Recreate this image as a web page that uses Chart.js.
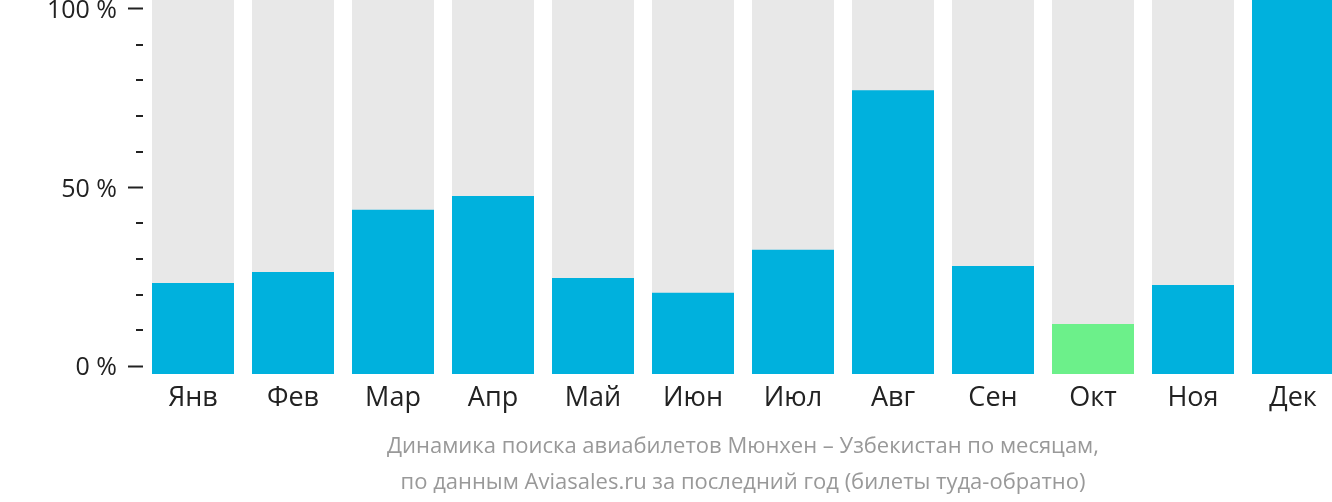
<!DOCTYPE html>
<html>
<head>
<meta charset="utf-8">
<script src="https://cdn.jsdelivr.net/npm/chart.js@4/dist/chart.umd.min.js"></script>
<style>
  html, body { margin: 0; padding: 0; background: #fff; overflow: hidden; }
  #wrap { position: relative; width: 1343px; height: 502px; }
  #caption {
    position: absolute; left: 143px; width: 1200px; top: 426px;
    text-align: center; font-family: "Open Sans", sans-serif;
    font-size: 22px; line-height: 36px; color: #999;
  }
</style>
</head>
<body>
<div id="wrap">
  <canvas id="grafica" width="1343" height="502"></canvas>
  <div id="caption">Динамика поиска авиабилетов Мюнхен – Узбекистан по месяцам,<br>по данным Aviasales.ru за последний год (билеты туда-обратно)</div>
</div>
<script>
// DATOS

const meses = ['Янв', 'Фев', 'Мар', 'Апр', 'Май', 'Июн', 'Июл', 'Авг', 'Сен', 'Окт', 'Ноя', 'Дек'];
const valores = [24.3, 27.3, 43.9, 47.6, 25.7, 21.7, 33.2, 75.9, 28.9, 13.4, 23.8, 100];
const fondo = [100, 100, 100, 100, 100, 100, 100, 100, 100, 100, 100, 100];
const ticksY = [0, 10, 20, 30, 40, 50, 60, 70, 80, 90, 100];
const ticksConEtiqueta = [0, 50, 100];

const mesMinimo = 'Окт';

const azul = '#00b1dd';
const verde = '#6cf08a';
const gris = '#e8e8e8';


// TICKS CORTOS

const ticksCortos = {
    id: 'ticksCortos',
    afterDraw(chart) {
        const esc = chart.scales.y2;
        const c = chart.ctx;
        c.save();
        c.strokeStyle = '#222';
        c.lineWidth = 2;
        ticksY.forEach(v => {
            if (ticksConEtiqueta.includes(v)) return;
            const y = Math.round(esc.getPixelForValue(v));
            c.beginPath();
            c.moveTo(esc.right - 7, y);
            c.lineTo(esc.right, y);
            c.stroke();
        });
        c.restore();
    }
};


// GRAFICA

const ctx = document.getElementById('grafica');

new Chart(ctx, {

    type: 'bar',

    data: {
        labels: meses,
        datasets: [
            {
                data: valores,
                backgroundColor: meses.map(m => m === mesMinimo ? verde : azul),
                grouped: false,
                yAxisID: 'y'
            },
            {
                data: fondo,
                backgroundColor: gris,
                grouped: false,
                yAxisID: 'y'
            }
        ]
    },

    options: {
        responsive: false,
        animation: false,
        events: [],
        layout: { padding: 0 },
        datasets: {
            bar: {
                categoryPercentage: 1,
                barPercentage: 0.82,
                borderWidth: 0
            }
        },
        plugins: {
            legend: { display: false },
            tooltip: { enabled: false }
        },
        scales: {
            x: {
                grid: { display: false, drawTicks: false },
                border: { display: false },
                ticks: {
                    padding: 8,
                    color: '#222',
                    font: { family: 'Open Sans', size: 27 }
                },
                afterFit(s) {
                    s.height = 128;
                    s.paddingLeft = 0;
                    s.paddingRight = 0;
                }
            },
            y: {
                display: false,
                min: 0,
                max: 100
            },
            y2: {
                position: 'left',
                min: -2.24,
                max: 102.52,
                border: { display: false },
                grid: {
                    drawOnChartArea: false,
                    tickLength: 15,
                    tickWidth: 2,
                    tickColor: c => ticksConEtiqueta.includes(c.tick.value) ? '#222' : 'rgba(0,0,0,0)'
                },
                ticks: {
                    padding: 11,
                    labelOffset: 2,
                    color: '#222',
                    font: { family: 'Open Sans', size: 25 },
                    callback: v => ticksConEtiqueta.includes(v) ? v + ' %' : ''
                },
                afterBuildTicks(s) {
                    s.ticks = ticksY.map(v => ({ value: v }));
                },
                afterFit(s) {
                    s.width = 143;
                    s.paddingTop = 0;
                    s.paddingBottom = 0;
                }
            }
        }
    },

    plugins: [ticksCortos]

});
</script>
</body>
</html>
